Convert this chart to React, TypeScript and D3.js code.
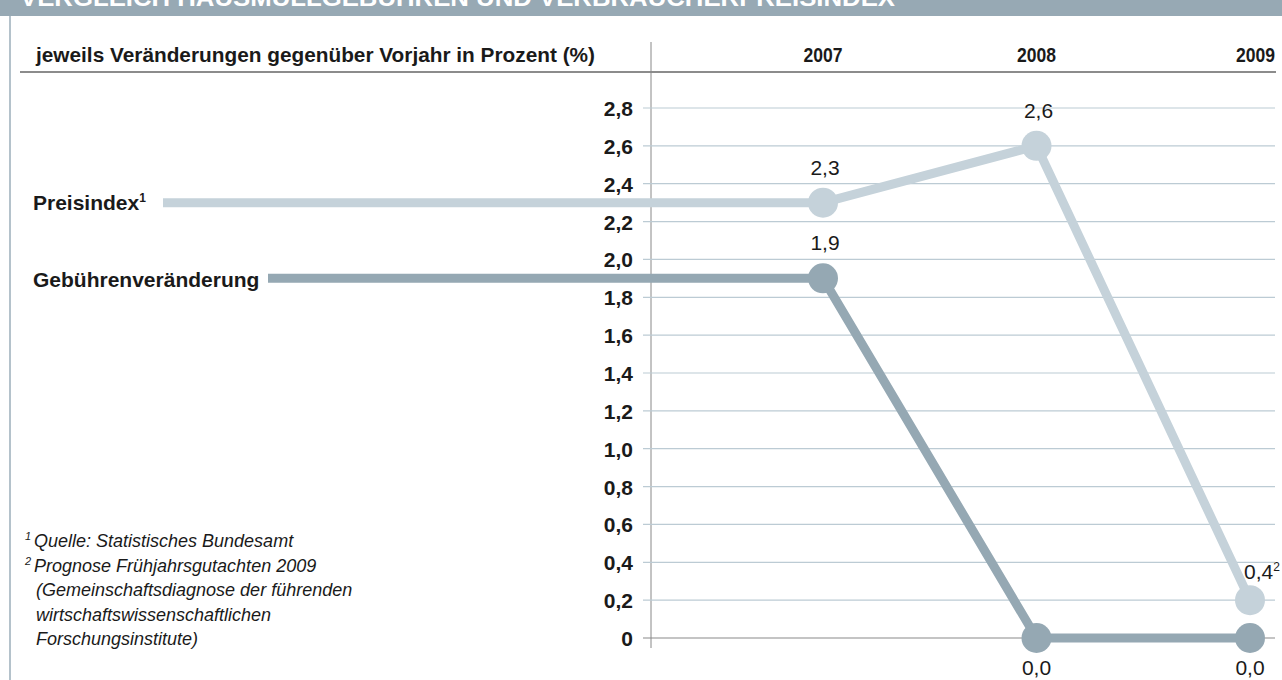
import * as d3 from 'd3';

const years = ['2007', '2008', '2009'];
// plotted positions; labels as printed
const preisValues = [2.3, 2.6, 0.2];
const preisLabels = ['2,3', '2,6', '0,4'];
const gebuehrValues = [1.9, 0.0, 0.0];
const gebuehrLabels = ['1,9', '0,0', '0,0'];
const yTicks = [0, 0.2, 0.4, 0.6, 0.8, 1.0, 1.2, 1.4, 1.6, 1.8, 2.0, 2.2, 2.4, 2.6, 2.8];
const footnotes = [
  { sup: '1', text: 'Quelle: Statistisches Bundesamt', indent: false },
  { sup: '2', text: 'Prognose Frühjahrsgutachten 2009', indent: false },
  { sup: '', text: '(Gemeinschaftsdiagnose der führenden', indent: true },
  { sup: '', text: 'wirtschaftswissenschaftlichen', indent: true },
  { sup: '', text: 'Forschungsinstitute)', indent: true },
];

const W = 1282;
const H = 680;
const FONT = 'Liberation Sans, Arial, sans-serif';
const LIGHT = '#c5d2da';
const DARK = '#95a8b3';
const GRID = '#bccbd4';
const INK = '#1a1a1a';

export default function App() {
  const x = d3.scalePoint<string>().domain(years).range([823, 1250]);
  const y = d3.scaleLinear().domain([0, 2.8]).range([638, 108]);
  const fmt = (v: number) => (v === 0 ? '0' : d3.format('.1f')(v).replace('.', ','));

  const line = d3
    .line<[number, number]>()
    .x(d => d[0])
    .y(d => d[1]);

  const preisPts: [number, number][] = [
    [163, y(preisValues[0])],
    ...years.map((yr, i) => [x(yr)!, y(preisValues[i])] as [number, number]),
  ];
  const gebPts: [number, number][] = [
    [268, y(gebuehrValues[0])],
    ...years.map((yr, i) => [x(yr)!, y(gebuehrValues[i])] as [number, number]),
  ];

  return (
    <svg
      width={W}
      height={H}
      style={{ position: 'absolute', left: 0, top: 0, background: '#fff' }}
      fontFamily={FONT}
    >
      {/* title band, cut off at the top like the reference */}
      <rect x={0} y={0} width={W} height={16} fill="#97a9b4" />
      <text x={20} y={6} fill="#fff" fontWeight="bold" fontSize={24} textLength={875} lengthAdjust="spacingAndGlyphs">
        VERGLEICH HAUSMÜLLGEBÜHREN UND VERBRAUCHERPREISINDEX
      </text>
      <line x1={10} x2={10} y1={16} y2={H} stroke="#b4c2cb" strokeWidth={2} />

      {/* header row */}
      <text x={36} y={62} fontWeight="bold" fontSize={21} fill={INK} textLength={559} lengthAdjust="spacingAndGlyphs">
        jeweils Veränderungen gegenüber Vorjahr in Prozent (%)
      </text>
      {years.map(yr => (
        <text
          key={yr}
          x={yr === '2009' ? 1275 : x(yr)}
          y={62}
          textAnchor={yr === '2009' ? 'end' : 'middle'}
          fontWeight="bold"
          fontSize={21}
          fill={INK}
          textLength={39}
          lengthAdjust="spacingAndGlyphs"
        >
          {yr}
        </text>
      ))}
      <line x1={20} x2={1276} y1={72} y2={72} stroke="#666" strokeWidth={1.5} />
      <line x1={651} x2={651} y1={42} y2={648} stroke="#888" strokeWidth={1} />

      {/* grid + y ticks */}
      {yTicks.map(t => (
        <g key={t}>
          <line
            x1={643}
            x2={1275}
            y1={y(t)}
            y2={y(t)}
            stroke={t === 0 ? '#8a8a8a' : GRID}
            strokeWidth={1.2}
          />
          <text x={633} y={y(t) + 8} textAnchor="end" fontWeight="bold" fontSize={21} fill={INK}>
            {fmt(t)}
          </text>
        </g>
      ))}

      {/* series labels */}
      <text x={33} y={210} fontWeight="bold" fontSize={21} fill={INK}>
        Preisindex
        <tspan fontSize={12} dy={-8}>1</tspan>
      </text>
      <text x={33} y={287} fontWeight="bold" fontSize={21} fill={INK}>
        Gebührenveränderung
      </text>

      {/* lines */}
      <path d={line(preisPts) ?? ''} fill="none" stroke={LIGHT} strokeWidth={9} strokeLinejoin="round" />
      <path d={line(gebPts) ?? ''} fill="none" stroke={DARK} strokeWidth={9} strokeLinejoin="round" />

      {years.map((yr, i) => (
        <circle key={'p' + yr} cx={x(yr)} cy={y(preisValues[i])} r={15} fill={LIGHT} />
      ))}
      {years.map((yr, i) => (
        <circle key={'g' + yr} cx={x(yr)} cy={y(gebuehrValues[i])} r={15} fill={DARK} />
      ))}

      {/* value labels */}
      {years.map((yr, i) =>
        i < 2 ? (
          <text key={'pl' + yr} x={x(yr)! + 2} y={y(preisValues[i]) - 28} textAnchor="middle" fontSize={21} fill={INK}>
            {preisLabels[i]}
          </text>
        ) : (
          <text key={'pl' + yr} x={x(yr)! - 6} y={y(preisValues[i]) - 21} fontSize={21} fill={INK}>
            {preisLabels[i]}
            <tspan fontSize={12} dy={-8}>2</tspan>
          </text>
        )
      )}
      {years.map((yr, i) => {
        const below = gebuehrValues[i] === 0;
        return (
          <text
            key={'gl' + yr}
            x={x(yr)! + (below ? 0 : 2)}
            y={below ? y(gebuehrValues[i]) + 37 : y(gebuehrValues[i]) - 28}
            textAnchor="middle"
            fontSize={21}
            fill={INK}
          >
            {gebuehrLabels[i]}
          </text>
        );
      })}

      {/* footnotes */}
      {footnotes.map((f, i) => (
        <text
          key={i}
          x={f.indent ? 36 : 25}
          y={547 + i * 24.5}
          fontStyle="italic"
          fontSize={18}
          fill={INK}
        >
          {f.sup && (
            <tspan fontSize={11} dy={-7}>
              {f.sup}
            </tspan>
          )}
          {f.sup ? (
            <tspan x={34} dy={7}>
              {f.text}
            </tspan>
          ) : (
            f.text
          )}
        </text>
      ))}
    </svg>
  );
}
